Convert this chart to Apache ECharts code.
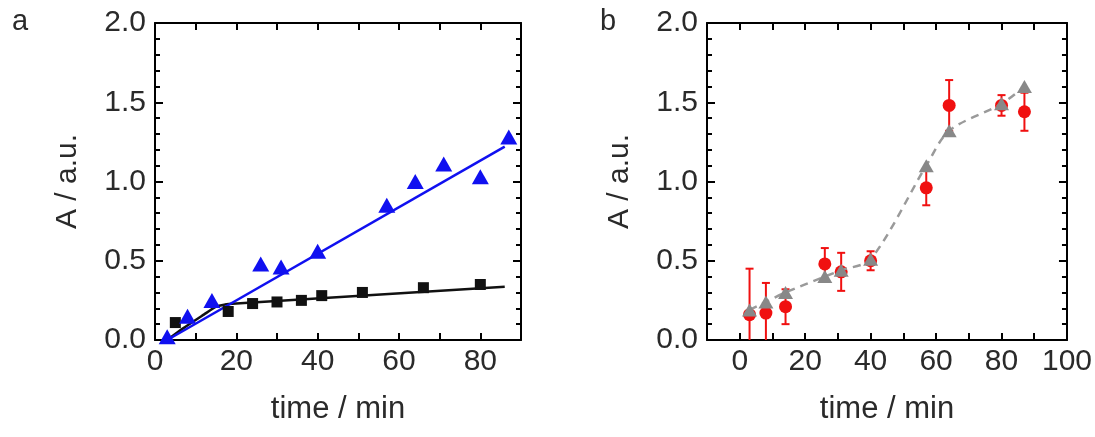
<!DOCTYPE html>
<html>
<head>
<meta charset="utf-8">
<script src="https://cdn.jsdelivr.net/npm/echarts@6/dist/echarts.min.js"></script>
<style>
    html, body { margin: 0; padding: 0; background: #fff; }
    #chart { width: 1095px; height: 437px; }
</style>
</head>
<body>
<div id="chart"></div>
<script type="application/javascript">
    // panel a - squares and their fit
    var timeSquares = [5, 18, 24, 30, 36, 41, 51, 66, 80];
    var absSquares = [0.11, 0.18, 0.23, 0.24, 0.25, 0.28, 0.30, 0.33, 0.35];
    var timeFitBlack = [3, 7, 12, 15, 17, 20, 86];
    var absFitBlack = [0.0, 0.075, 0.16, 0.21, 0.223, 0.23, 0.336];

    // panel a - triangles and their fit
    var timeTriangles = [3, 8, 14, 26, 31, 40, 57, 64, 71, 80, 87];
    var absTriangles = [0.02, 0.15, 0.25, 0.48, 0.46, 0.56, 0.85, 1.00, 1.11, 1.03, 1.28];
    var timeFitBlue = [3, 86];
    var absFitBlue = [0.0, 1.22];

    // panel b
    var timeB = [3, 8, 14, 26, 31, 40, 57, 64, 80, 87];
    var absRed = [0.16, 0.17, 0.21, 0.48, 0.43, 0.50, 0.96, 1.48, 1.48, 1.44];
    var errRed = [0.29, 0.19, 0.11, 0.10, 0.12, 0.06, 0.11, 0.16, 0.065, 0.12];
    var absGray = [0.19, 0.24, 0.30, 0.40, 0.44, 0.51, 1.10, 1.32, 1.49, 1.60];

    var FONT = 'Liberation Sans, Arial, sans-serif';
    var TEXT = '#2a2a2a';

    function pairs(xs, ys) {
        return xs.map(function (x, i) { return [x, ys[i]]; });
    }

    function xAxisOf(gridIndex, min, max, position) {
        var bottom = position === 'bottom';
        return {
            type: 'value', gridIndex: gridIndex, position: position,
            min: min, max: max, interval: 10,
            axisLine: { show: true, onZero: false, lineStyle: { color: '#000', width: 2 } },
            axisTick: { show: true, inside: true, length: 7, lineStyle: { color: '#000', width: 2 } },
            splitLine: { show: false },
            axisLabel: {
                show: bottom, margin: 7, color: TEXT, fontSize: 30, fontFamily: FONT,
                formatter: function (v) { return v >= 0 && v % 20 === 0 ? String(v) : ''; }
            },
            name: bottom ? 'time / min' : '',
            nameLocation: 'middle', nameGap: 54,
            nameTextStyle: { color: TEXT, fontSize: 31, fontFamily: FONT }
        };
    }

    function yAxisOf(gridIndex, position) {
        var left = position === 'left';
        return {
            type: 'value', gridIndex: gridIndex, position: position,
            min: 0, max: 2, interval: 0.5,
            axisLine: { show: true, onZero: false, lineStyle: { color: '#000', width: 2 } },
            axisTick: { show: true, inside: true, length: 8, lineStyle: { color: '#000', width: 2 } },
            minorTick: { show: true, splitNumber: 5, length: 5, lineStyle: { color: '#000', width: 2 } },
            splitLine: { show: false },
            axisLabel: {
                show: left, margin: 9, color: TEXT, fontSize: 30, fontFamily: FONT,
                formatter: function (v) { return v.toFixed(1); }
            },
            name: left ? 'A / a.u.' : '',
            nameLocation: 'middle', nameGap: 72, nameRotate: 90,
            nameTextStyle: { color: TEXT, fontSize: 30, fontFamily: FONT }
        };
    }

    function errorBar(params, api) {
        var x = api.value(0);
        var top = api.coord([x, api.value(2)]);
        var bot = api.coord([x, api.value(1)]);
        var half = 4;
        var style = { stroke: '#f01010', lineWidth: 2 };
        return {
            type: 'group',
            children: [
                { type: 'line', shape: { x1: top[0], y1: top[1], x2: bot[0], y2: bot[1] }, style: style },
                { type: 'line', shape: { x1: top[0] - half, y1: top[1], x2: top[0] + half, y2: top[1] }, style: style },
                { type: 'line', shape: { x1: bot[0] - half, y1: bot[1], x2: bot[0] + half, y2: bot[1] }, style: style }
            ]
        };
    }

    var errData = timeB.map(function (t, i) {
        return [t, absRed[i] - errRed[i], absRed[i] + errRed[i]];
    });

    var chart = echarts.init(document.getElementById('chart'), null, { renderer: 'canvas' });
    var option = {};
    option.animation = false;
    option.backgroundColor = '#fff';
    option.title = [
        { text: 'a', left: 7, top: 2, textStyle: { color: TEXT, fontSize: 29, fontWeight: 'normal', fontFamily: FONT } },
        { text: 'b', left: 595, top: 2, textStyle: { color: TEXT, fontSize: 29, fontWeight: 'normal', fontFamily: FONT } }
    ];
    option.grid = [
        { left: 155, top: 23, width: 366, height: 317 },
        { left: 707, top: 23, width: 367, height: 317 }
    ];
    option.xAxis = [
        xAxisOf(0, 0, 90, 'bottom'),
        xAxisOf(0, 0, 90, 'top'),
        xAxisOf(1, -10, 100, 'bottom'),
        xAxisOf(1, -10, 100, 'top')
    ];
    option.yAxis = [
        yAxisOf(0, 'left'),
        yAxisOf(0, 'right'),
        yAxisOf(1, 'left'),
        yAxisOf(1, 'right')
    ];
    option.series = [
        {
            type: 'line', xAxisIndex: 0, yAxisIndex: 0, data: pairs(timeFitBlack, absFitBlack),
            smooth: 0.2, showSymbol: false, z: 2,
            lineStyle: { color: '#111', width: 2.5 }
        },
        {
            type: 'line', xAxisIndex: 0, yAxisIndex: 0, data: pairs(timeFitBlue, absFitBlue),
            showSymbol: false, z: 2,
            lineStyle: { color: '#1010f0', width: 2.5 }
        },
        {
            type: 'scatter', xAxisIndex: 0, yAxisIndex: 0, data: pairs(timeSquares, absSquares),
            symbol: 'rect', symbolSize: 11, z: 3,
            itemStyle: { color: '#111', opacity: 1 }
        },
        {
            type: 'scatter', xAxisIndex: 0, yAxisIndex: 0, data: pairs(timeTriangles, absTriangles),
            symbol: 'triangle', symbolSize: [17, 15], z: 3,
            itemStyle: { color: '#1010f0', opacity: 1 }
        },
        {
            type: 'custom', xAxisIndex: 2, yAxisIndex: 2, data: errData,
            renderItem: errorBar, clip: true, z: 2
        },
        {
            type: 'scatter', xAxisIndex: 2, yAxisIndex: 2, data: pairs(timeB, absRed),
            symbol: 'circle', symbolSize: 13, z: 3,
            itemStyle: { color: '#f01010', opacity: 1 }
        },
        {
            type: 'line', xAxisIndex: 2, yAxisIndex: 2, data: pairs(timeB, absGray),
            smooth: 0.3, z: 4,
            symbol: 'triangle', symbolSize: [15, 13], showSymbol: true,
            itemStyle: { color: '#888', opacity: 1 },
            lineStyle: { color: '#9a9a9a', width: 2.5, type: [8, 6] }
        }
    ];
    chart.setOption(option);
</script>
</body>
</html>
